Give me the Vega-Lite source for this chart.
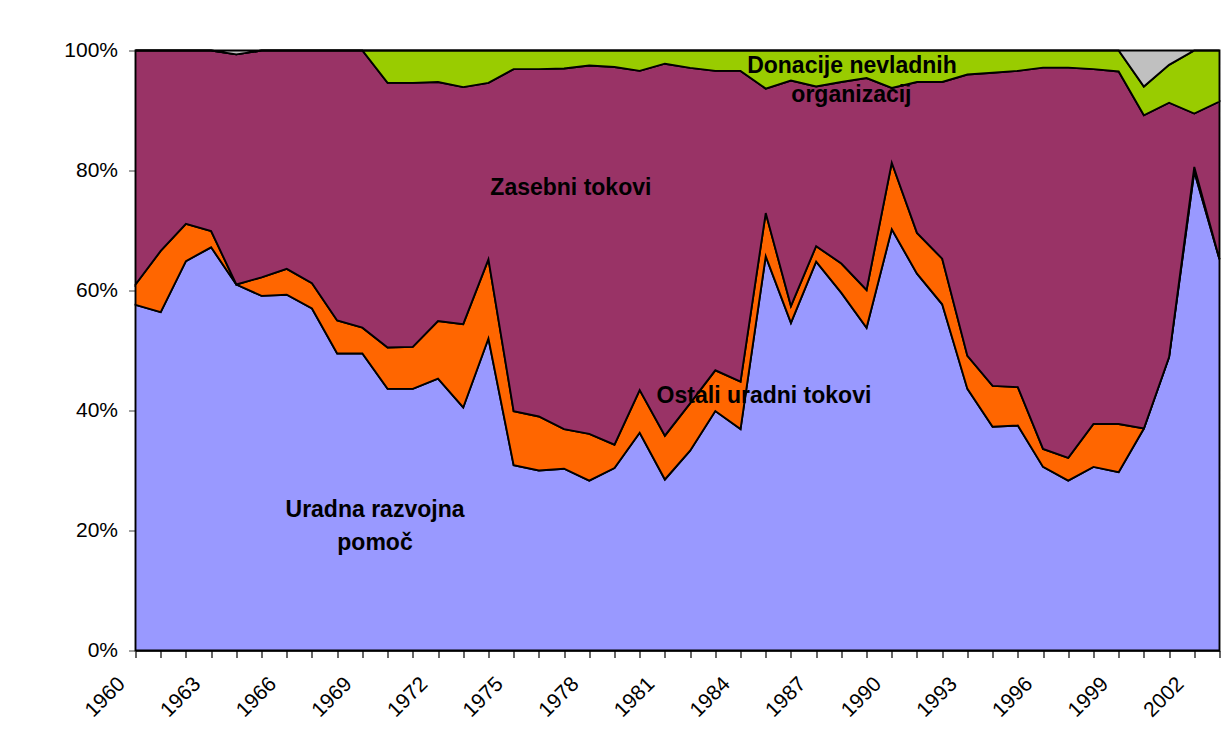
{
  "$schema": "https://vega.github.io/schema/vega-lite/v6.json",
  "width": 1084,
  "height": 600,
  "autosize": {"type": "none"},
  "padding": {"left": 135.5, "top": 50.5, "right": 5.5, "bottom": 94.5},
  "background": "white",
  "config": {"view": {"stroke": null}, "font": "Liberation Sans"},
  "datasets": {
    "flows": [
      {"year": 1960, "oda": 57.6, "oof": 3.4, "private": 39.0, "private_ngo": 0, "unspecified": 0},
      {"year": 1961, "oda": 56.4, "oof": 10.2, "private": 33.4, "private_ngo": 0, "unspecified": 0},
      {"year": 1962, "oda": 64.9, "oof": 6.2, "private": 28.9, "private_ngo": 0, "unspecified": 0},
      {"year": 1963, "oda": 67.2, "oof": 2.7, "private": 30.1, "private_ngo": 0, "unspecified": 0},
      {"year": 1964, "oda": 61.0, "oof": 0, "private": 38.35, "private_ngo": 0, "unspecified": 0.65},
      {"year": 1965, "oda": 59.1, "oof": 3.1, "private": 37.8, "private_ngo": 0, "unspecified": 0},
      {"year": 1966, "oda": 59.3, "oof": 4.3, "private": 36.4, "private_ngo": 0, "unspecified": 0},
      {"year": 1967, "oda": 57.0, "oof": 4.2, "private": 38.8, "private_ngo": 0, "unspecified": 0},
      {"year": 1968, "oda": 49.5, "oof": 5.5, "private": 45.0, "private_ngo": 0, "unspecified": 0},
      {"year": 1969, "oda": 49.5, "oof": 4.3, "private": 46.2, "private_ngo": 0, "unspecified": 0},
      {"year": 1970, "oda": 43.6, "oof": 6.9, "private": 44.1, "private_ngo": 5.4, "unspecified": 0},
      {"year": 1971, "oda": 43.6, "oof": 7.0, "private": 44.0, "private_ngo": 5.4, "unspecified": 0},
      {"year": 1972, "oda": 45.3, "oof": 9.6, "private": 39.85, "private_ngo": 5.25, "unspecified": 0},
      {"year": 1973, "oda": 40.5, "oof": 13.9, "private": 39.5, "private_ngo": 6.1, "unspecified": 0},
      {"year": 1974, "oda": 52.0, "oof": 13.2, "private": 29.4, "private_ngo": 5.4, "unspecified": 0},
      {"year": 1975, "oda": 30.9, "oof": 9.0, "private": 57.0, "private_ngo": 3.1, "unspecified": 0},
      {"year": 1976, "oda": 30.0, "oof": 9.0, "private": 57.9, "private_ngo": 3.1, "unspecified": 0},
      {"year": 1977, "oda": 30.3, "oof": 6.6, "private": 60.1, "private_ngo": 3.0, "unspecified": 0},
      {"year": 1978, "oda": 28.3, "oof": 7.8, "private": 61.4, "private_ngo": 2.5, "unspecified": 0},
      {"year": 1979, "oda": 30.4, "oof": 3.9, "private": 62.95, "private_ngo": 2.75, "unspecified": 0},
      {"year": 1980, "oda": 36.3, "oof": 7.1, "private": 53.2, "private_ngo": 3.4, "unspecified": 0},
      {"year": 1981, "oda": 28.5, "oof": 7.3, "private": 62.0, "private_ngo": 2.2, "unspecified": 0},
      {"year": 1982, "oda": 33.3, "oof": 7.9, "private": 55.9, "private_ngo": 2.9, "unspecified": 0},
      {"year": 1983, "oda": 39.9, "oof": 6.8, "private": 49.9, "private_ngo": 3.4, "unspecified": 0},
      {"year": 1984, "oda": 36.9, "oof": 7.9, "private": 51.8, "private_ngo": 3.4, "unspecified": 0},
      {"year": 1985, "oda": 65.7, "oof": 7.2, "private": 20.75, "private_ngo": 6.35, "unspecified": 0},
      {"year": 1986, "oda": 54.6, "oof": 2.8, "private": 37.6, "private_ngo": 5.0, "unspecified": 0},
      {"year": 1987, "oda": 64.8, "oof": 2.6, "private": 26.6, "private_ngo": 6.0, "unspecified": 0},
      {"year": 1988, "oda": 59.6, "oof": 4.9, "private": 30.25, "private_ngo": 5.25, "unspecified": 0},
      {"year": 1989, "oda": 53.8, "oof": 6.3, "private": 35.3, "private_ngo": 4.6, "unspecified": 0},
      {"year": 1990, "oda": 70.2, "oof": 11.1, "private": 12.45, "private_ngo": 6.25, "unspecified": 0},
      {"year": 1991, "oda": 62.8, "oof": 6.8, "private": 25.15, "private_ngo": 5.25, "unspecified": 0},
      {"year": 1992, "oda": 57.7, "oof": 7.6, "private": 29.45, "private_ngo": 5.25, "unspecified": 0},
      {"year": 1993, "oda": 43.6, "oof": 5.5, "private": 46.9, "private_ngo": 4.0, "unspecified": 0},
      {"year": 1994, "oda": 37.3, "oof": 6.8, "private": 52.2, "private_ngo": 3.7, "unspecified": 0},
      {"year": 1995, "oda": 37.5, "oof": 6.4, "private": 52.7, "private_ngo": 3.4, "unspecified": 0},
      {"year": 1996, "oda": 30.6, "oof": 3.0, "private": 63.55, "private_ngo": 2.85, "unspecified": 0},
      {"year": 1997, "oda": 28.3, "oof": 3.8, "private": 65.05, "private_ngo": 2.85, "unspecified": 0},
      {"year": 1998, "oda": 30.6, "oof": 7.15, "private": 59.15, "private_ngo": 3.1, "unspecified": 0},
      {"year": 1999, "oda": 29.7, "oof": 8.05, "private": 58.75, "private_ngo": 3.5, "unspecified": 0},
      {"year": 2000, "oda": 37.0, "oof": 0, "private": 52.2, "private_ngo": 4.8, "unspecified": 6.0},
      {"year": 2001, "oda": 48.9, "oof": 0, "private": 42.4, "private_ngo": 6.3, "unspecified": 2.4},
      {"year": 2002, "oda": 79.8, "oof": 0.8, "private": 8.9, "private_ngo": 10.5, "unspecified": 0},
      {"year": 2003, "oda": 65.2, "oof": 0, "private": 26.3, "private_ngo": 8.5, "unspecified": 0}
    ],
    "labels": [
      {"year": 1977.27, "level": 0.7595, "text": "Zasebni tokovi"},
      {"year": 1984.93, "level": 0.4128, "text": "Ostali uradni tokovi"},
      {"year": 1969.5, "level": 0.2228, "text": "Uradna razvojna"},
      {"year": 1969.5, "level": 0.167, "text": "pomoč"},
      {"year": 1988.42, "level": 0.9628, "text": "Donacije nevladnih"},
      {"year": 1988.4, "level": 0.9135, "text": "organizacij"}
    ]
  },
  "layer": [
    {
      "data": {"name": "flows"},
      "transform": [{"fold": ["oda", "oof", "private", "private_ngo", "unspecified"], "as": ["series", "share"]}],
      "mark": {"type": "area", "stroke": "black", "strokeWidth": 1.9, "opacity": 1},
      "encoding": {
        "x": {
          "field": "year", "type": "quantitative",
          "scale": {"domain": [1960, 2003], "nice": false, "zero": false},
          "axis": {
            "title": null,
            "values": [1960,1961,1962,1963,1964,1965,1966,1967,1968,1969,1970,1971,1972,1973,1974,1975,1976,1977,1978,1979,1980,1981,1982,1983,1984,1985,1986,1987,1988,1989,1990,1991,1992,1993,1994,1995,1996,1997,1998,1999,2000,2001,2002,2003],
            "format": "d",
            "labelExpr": "(datum.value - 1960) % 3 == 0 ? datum.label : ''",
            "labelAngle": -45, "labelAlign": "right", "labelBaseline": "middle",
            "labelOffset": -14, "labelPadding": 23,
            "labelOverlap": false, "labelFlush": false, "labelBound": false,
            "labelFontSize": 21, "labelColor": "black", "labelFont": "Liberation Sans",
            "tickSize": 7, "tickColor": "black", "tickWidth": 1.2,
            "domainColor": "black", "domainWidth": 1.5, "grid": false
          }
        },
        "y": {
          "field": "share", "type": "quantitative", "stack": "normalize",
          "scale": {"domain": [0, 1], "nice": false},
          "axis": {
            "title": null,
            "values": [0, 0.2, 0.4, 0.6, 0.8, 1],
            "format": ".0%",
            "labelFontSize": 21, "labelColor": "black", "labelFont": "Liberation Sans",
            "labelPadding": 11, "labelFlush": false, "labelOverlap": false,
            "tickSize": 7, "tickColor": "#808080", "tickWidth": 1.5,
            "domainColor": "#808080", "domainWidth": 1.5, "grid": false
          }
        },
        "color": {
          "field": "series", "type": "nominal",
          "scale": {"domain": ["oda", "oof", "private", "private_ngo", "unspecified"], "range": ["#9999FF", "#FF6600", "#993366", "#99CC00", "#C0C0C0"]},
          "legend": null
        },
        "order": {"field": "series", "sort": "ascending"}
      }
    },
    {
      "data": {"name": "labels"},
      "mark": {"type": "text", "font": "Liberation Sans", "fontWeight": "bold", "fontSize": 23, "align": "center", "baseline": "alphabetic", "color": "black"},
      "encoding": {
        "x": {
          "field": "year", "type": "quantitative",
          "axis": {
            "title": null,
            "values": [1960,1961,1962,1963,1964,1965,1966,1967,1968,1969,1970,1971,1972,1973,1974,1975,1976,1977,1978,1979,1980,1981,1982,1983,1984,1985,1986,1987,1988,1989,1990,1991,1992,1993,1994,1995,1996,1997,1998,1999,2000,2001,2002,2003],
            "format": "d",
            "labelExpr": "(datum.value - 1960) % 3 == 0 ? datum.label : ''",
            "labelAngle": -45, "labelAlign": "right", "labelBaseline": "middle",
            "labelOffset": -14, "labelPadding": 23,
            "labelOverlap": false, "labelFlush": false, "labelBound": false,
            "labelFontSize": 21, "labelColor": "black", "labelFont": "Liberation Sans",
            "tickSize": 7, "tickColor": "black", "tickWidth": 1.2,
            "domainColor": "black", "domainWidth": 1.5, "grid": false
          }
        },
        "y": {
          "field": "level", "type": "quantitative",
          "axis": {
            "title": null,
            "values": [0, 0.2, 0.4, 0.6, 0.8, 1],
            "format": ".0%",
            "labelFontSize": 21, "labelColor": "black", "labelFont": "Liberation Sans",
            "labelPadding": 11, "labelFlush": false, "labelOverlap": false,
            "tickSize": 7, "tickColor": "#808080", "tickWidth": 1.5,
            "domainColor": "#808080", "domainWidth": 1.5, "grid": false
          }
        },
        "text": {"field": "text", "type": "nominal"}
      }
    }
  ]
}
